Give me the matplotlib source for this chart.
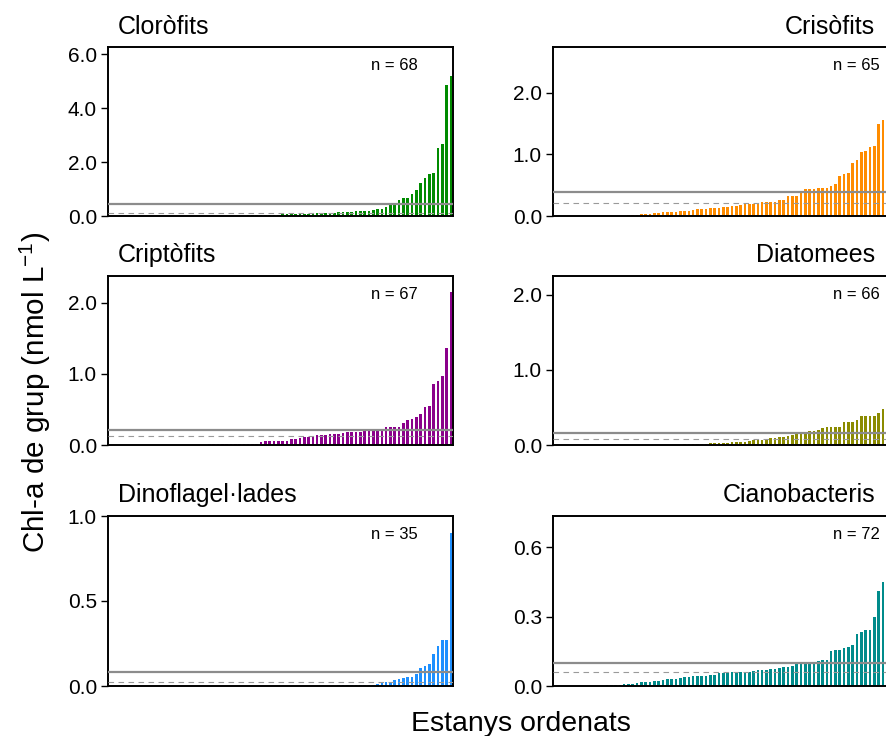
import numpy as np
import matplotlib.pyplot as plt

plt.rcParams['font.family'] = ['Liberation Sans', 'DejaVu Sans']
plt.rcParams['mathtext.fontset'] = 'custom'
plt.rcParams['mathtext.rm'] = 'Liberation Sans'
plt.rcParams['mathtext.default'] = 'regular'

# lakes sampled; each group only has non-zero values for some of them
n_lakes = 80

groups = ['Cloròfits', 'Crisòfits', 'Criptòfits', 'Diatomees', 'Dinoflagel·lades', 'Cianobacteris']
colors = ['#008B00', '#FF8C00', '#8B008B', '#8B8B00', '#1E90FF', '#008B8B']

# non-zero concentrations, sorted ascending (nmol L-1)
clorofits = [0.001, 0.002, 0.002, 0.003, 0.004, 0.004, 0.005, 0.006, 0.007, 0.007,
             0.008, 0.009, 0.010, 0.011, 0.012, 0.013, 0.014, 0.015, 0.016, 0.018,
             0.02, 0.02, 0.03, 0.03, 0.04, 0.04, 0.05, 0.05, 0.06, 0.06, 0.06, 0.07,
             0.07, 0.09, 0.09, 0.10, 0.11, 0.11, 0.11, 0.11, 0.12, 0.14, 0.15, 0.15,
             0.16, 0.17, 0.17, 0.19, 0.19, 0.22, 0.25, 0.27, 0.34, 0.39, 0.44, 0.61,
             0.66, 0.68, 0.81, 0.96, 1.24, 1.42, 1.55, 1.58, 2.51, 2.67, 4.85, 5.19]
crisofits = [0.004, 0.008, 0.015, 0.02, 0.02, 0.03, 0.03, 0.04, 0.05, 0.05, 0.06, 0.06,
             0.06, 0.07, 0.08, 0.08, 0.08, 0.09, 0.11, 0.11, 0.12, 0.13, 0.13, 0.13,
             0.14, 0.15, 0.16, 0.17, 0.18, 0.19, 0.19, 0.20, 0.21, 0.22, 0.22, 0.23,
             0.23, 0.26, 0.26, 0.32, 0.32, 0.32, 0.40, 0.43, 0.44, 0.44, 0.45, 0.45,
             0.46, 0.49, 0.52, 0.65, 0.68, 0.70, 0.86, 0.91, 1.04, 1.05, 1.12, 1.13,
             1.49, 1.55, 1.85, 2.10, 2.49]
criptofits = [0.001, 0.001, 0.002, 0.003, 0.003, 0.004, 0.005, 0.006, 0.006, 0.007,
              0.008, 0.009, 0.010, 0.011, 0.012, 0.015, 0.015, 0.015, 0.02, 0.02,
              0.02, 0.02, 0.04, 0.05, 0.05, 0.05, 0.06, 0.06, 0.06, 0.08, 0.09, 0.10,
              0.11, 0.11, 0.13, 0.14, 0.14, 0.14, 0.15, 0.16, 0.16, 0.17, 0.18, 0.19,
              0.19, 0.19, 0.20, 0.20, 0.21, 0.21, 0.21, 0.25, 0.26, 0.26, 0.26, 0.31,
              0.35, 0.36, 0.40, 0.44, 0.54, 0.55, 0.86, 0.90, 0.97, 1.37, 2.15]
diatomees = [0.001, 0.001, 0.001, 0.001, 0.002, 0.002, 0.002, 0.002, 0.002, 0.003,
             0.003, 0.003, 0.003, 0.004, 0.005, 0.006, 0.008, 0.009, 0.010, 0.012,
             0.013, 0.015, 0.02, 0.025, 0.025, 0.03, 0.03, 0.035, 0.035, 0.04, 0.045,
             0.05, 0.06, 0.07, 0.07, 0.08, 0.09, 0.09, 0.10, 0.11, 0.12, 0.13, 0.14,
             0.15, 0.16, 0.18, 0.19, 0.20, 0.22, 0.24, 0.24, 0.24, 0.24, 0.31, 0.31,
             0.31, 0.33, 0.38, 0.38, 0.38, 0.39, 0.43, 0.48, 0.62, 1.10, 2.05]
dinoflagelades = [0.001, 0.001, 0.001, 0.001, 0.002, 0.002, 0.002, 0.002, 0.003, 0.003,
                  0.003, 0.003, 0.004, 0.004, 0.004, 0.005, 0.006, 0.010, 0.020, 0.022,
                  0.025, 0.033, 0.041, 0.049, 0.053, 0.055, 0.070, 0.106, 0.120, 0.130,
                  0.190, 0.235, 0.270, 0.270, 0.900]
cianobacteris = [0.001, 0.001, 0.002, 0.002, 0.003, 0.003, 0.004, 0.006, 0.007, 0.009,
                 0.010, 0.013, 0.016, 0.017, 0.019, 0.020, 0.022, 0.026, 0.029, 0.030,
                 0.032, 0.036, 0.038, 0.040, 0.042, 0.042, 0.045, 0.045, 0.046, 0.048,
                 0.055, 0.056, 0.059, 0.059, 0.061, 0.061, 0.062, 0.062, 0.065, 0.068,
                 0.071, 0.071, 0.074, 0.074, 0.079, 0.081, 0.084, 0.088, 0.094, 0.095,
                 0.097, 0.100, 0.105, 0.108, 0.111, 0.114, 0.149, 0.157, 0.157, 0.165,
                 0.170, 0.175, 0.225, 0.235, 0.240, 0.240, 0.300, 0.410, 0.450, 0.500,
                 0.580, 0.667]
series = [clorofits, crisofits, criptofits, diatomees, dinoflagelades, cianobacteris]

# reference levels drawn across each panel (solid and dashed)
level_solid = [0.46, 0.39, 0.21, 0.166, 0.082, 0.10]
level_dashed = [0.10, 0.215, 0.12, 0.076, 0.022, 0.059]

ylims = [6.27, 2.74, 2.38, 2.25, 1.0, 0.734]
yticks = [[0, 2, 4, 6], [0, 1, 2], [0, 1, 2], [0, 1, 2], [0, 0.5, 1.0], [0, 0.3, 0.6]]

W, H = 886, 736
fig = plt.figure(figsize=(W / 100, H / 100), dpi=100)

col_x = [108, 553]
row_y = [(47, 216), (276, 445), (516, 686)]
ax_w = 345

for k, vals in enumerate(series):
    r, c = divmod(k, 2)
    top, bot = row_y[r]
    ax = fig.add_axes([col_x[c] / W, 1 - bot / H, ax_w / W, (bot - top) / H])
    heights = np.concatenate([np.zeros(n_lakes - len(vals)), np.sort(vals)])
    ax.bar(np.arange(n_lakes), heights, width=0.62, color=colors[k], linewidth=0)
    ax.axhline(level_solid[k], color='#8c8c8c', lw=1.6, zorder=3)
    ax.axhline(level_dashed[k], color='#9a9a9a', lw=0.8, ls=(0, (5, 4)), zorder=3)
    ax.set_xlim(-0.5, n_lakes - 0.5)
    ax.set_ylim(0, ylims[k])
    ax.set_yticks(yticks[k])
    ax.set_yticklabels(['%.1f' % t for t in yticks[k]], fontsize=15)
    ax.set_xticks([])
    ax.tick_params(axis='y', direction='out', length=5, width=1, pad=3)
    for s in ax.spines.values():
        s.set_linewidth(1.4)
    nx = 0.83 if c == 0 else 0.88
    ax.text(nx, 0.89, 'n = %d' % len(vals), transform=ax.transAxes,
            ha='center', va='center', fontsize=12)

title_y = [27, 255, 495]
for k, name in enumerate(groups):
    r, c = divmod(k, 2)
    if c == 0:
        fig.text(118 / W, 1 - title_y[r] / H, name, ha='left', va='center', fontsize=18)
    else:
        fig.text(875 / W, 1 - title_y[r] / H, name, ha='right', va='center', fontsize=18)

fig.text(35 / W, 1 - 392 / H, 'Chl-a de grup (nmol L$^{-1}$)', rotation=90,
         ha='center', va='center', fontsize=21.3)
fig.text(411 / W, 1 - 731 / H, 'Estanys ordenats', ha='left', va='baseline', fontsize=20.5)

fig.savefig('out.png', dpi=100)
